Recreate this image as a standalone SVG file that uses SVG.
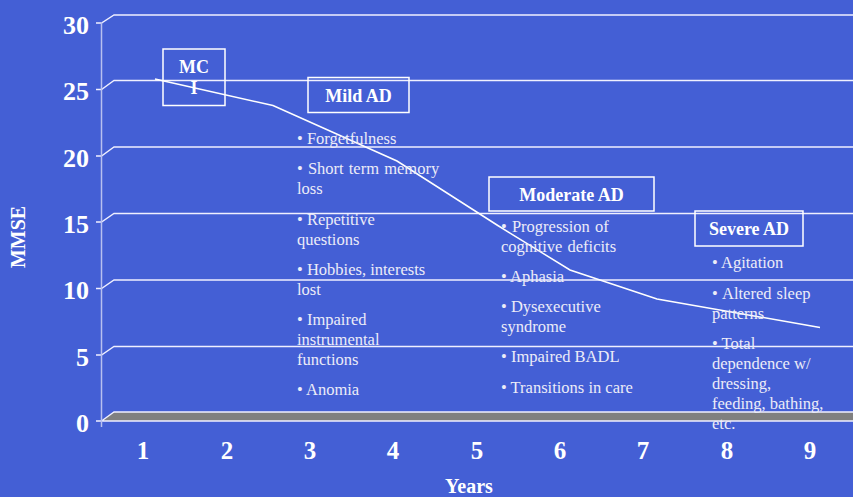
<svg xmlns="http://www.w3.org/2000/svg" width="853" height="497" viewBox="0 0 853 497">
<style>
.grid{stroke:#f0f0ff;stroke-width:1.3;fill:none}
.ylab{font-family:"Liberation Serif",serif;font-weight:bold;font-size:26px;fill:#fff;text-anchor:end}
.xlab{font-family:"Liberation Serif",serif;font-weight:bold;font-size:25px;fill:#fff;text-anchor:middle}
.box{fill:none;stroke:#fff;stroke-width:1.5}
.title{font-family:"Liberation Serif",serif;font-weight:bold;font-size:18px;fill:#fff;text-anchor:middle}
.bul{font-family:"Liberation Serif",serif;font-size:16.5px;fill:#ececf8}
</style>
<rect width="853" height="497" fill="#445fd5"/>
<g id="axes">
<g class="grid">
<path d="M96 23H101.5L114 15H853"/>
<path d="M96 89.5H101.5L114 80.5H853"/>
<path d="M96 156H101.5L114 147H853"/>
<path d="M96 222H101.5L114 213.5H853"/>
<path d="M96 288.5H101.5L114 280H853"/>
<path d="M96 355H101.5L114 346.5H853"/>
</g>
<path d="M101.5 421L114 412H853V421Z" fill="#808080"/>
<path class="grid" d="M96 421H853M101.5 421L114 412H853"/>
<line x1="101.5" y1="22" x2="101.5" y2="427" stroke="#b8c0f0" stroke-width="1.5"/>
<text class="ylab" x="89" y="34">30</text>
<text class="ylab" x="89" y="100">25</text>
<text class="ylab" x="89" y="167">20</text>
<text class="ylab" x="89" y="233">15</text>
<text class="ylab" x="89" y="299">10</text>
<text class="ylab" x="89" y="366">5</text>
<text class="ylab" x="89" y="432">0</text>
<text class="xlab" x="143" y="459">1</text>
<text class="xlab" x="227" y="459">2</text>
<text class="xlab" x="310" y="459">3</text>
<text class="xlab" x="393" y="459">4</text>
<text class="xlab" x="477" y="459">5</text>
<text class="xlab" x="560" y="459">6</text>
<text class="xlab" x="643" y="459">7</text>
<text class="xlab" x="727" y="459">8</text>
<text class="xlab" x="810" y="459">9</text>
<text x="469" y="493" font-family="Liberation Serif,serif" font-weight="bold" font-size="20" fill="#fff" text-anchor="middle">Years</text>
<text transform="translate(24.5,237) rotate(-90)" font-family="Liberation Serif,serif" font-weight="bold" font-size="20" fill="#fff" text-anchor="middle">MMSE</text>
</g>
<g id="connectors">
<polyline points="155,79 273,105.5 397,161 497,225 570,270 657,299 820,327.5" fill="none" stroke="#fff" stroke-width="1.5"/>
</g>
<g id="mci">
<rect class="box" x="163" y="49" width="62" height="56.5"/>
<text class="title" x="194" y="73" font-size="16.5">MC</text>
<text class="title" x="194" y="94" font-size="16.5">I</text>
</g>
<g id="mild">
<rect class="box" x="308" y="77.5" width="101" height="35"/>
<text class="title" x="358.5" y="102">Mild AD</text>
<text class="bul" x="297" y="144">• Forgetfulness</text>
<text class="bul" x="297" y="174" word-spacing="1">• Short term memory</text>
<text class="bul" x="297" y="194">loss</text>
<text class="bul" x="297" y="225">• Repetitive</text>
<text class="bul" x="297" y="245">questions</text>
<text class="bul" x="297" y="275">• Hobbies, interests</text>
<text class="bul" x="297" y="295">lost</text>
<text class="bul" x="297" y="325">• Impaired</text>
<text class="bul" x="297" y="345">instrumental</text>
<text class="bul" x="297" y="365">functions</text>
<text class="bul" x="297" y="395">• Anomia</text>
</g>
<g id="moderate">
<rect class="box" x="489" y="177" width="165" height="34"/>
<text class="title" x="571.5" y="201">Moderate AD</text>
<text class="bul" x="501" y="232" word-spacing="1">• Progression of</text>
<text class="bul" x="501" y="252" word-spacing="1">cognitive deficits</text>
<text class="bul" x="501" y="282">• Aphasia</text>
<text class="bul" x="501" y="312">• Dysexecutive</text>
<text class="bul" x="501" y="332">syndrome</text>
<text class="bul" x="501" y="362">• Impaired BADL</text>
<text class="bul" x="501" y="393">• Transitions in care</text>
</g>
<g id="severe">
<rect class="box" x="695" y="211" width="108" height="35"/>
<text class="title" x="749" y="235">Severe AD</text>
<text class="bul" x="712" y="268">• Agitation</text>
<text class="bul" x="712" y="299" word-spacing="1">• Altered sleep</text>
<text class="bul" x="712" y="319">patterns</text>
<text class="bul" x="712" y="349">• Total</text>
<text class="bul" x="712" y="369">dependence w/</text>
<text class="bul" x="712" y="389">dressing,</text>
<text class="bul" x="712" y="409">feeding, bathing,</text>
<text class="bul" x="712" y="429">etc.</text>
</g>
</svg>
